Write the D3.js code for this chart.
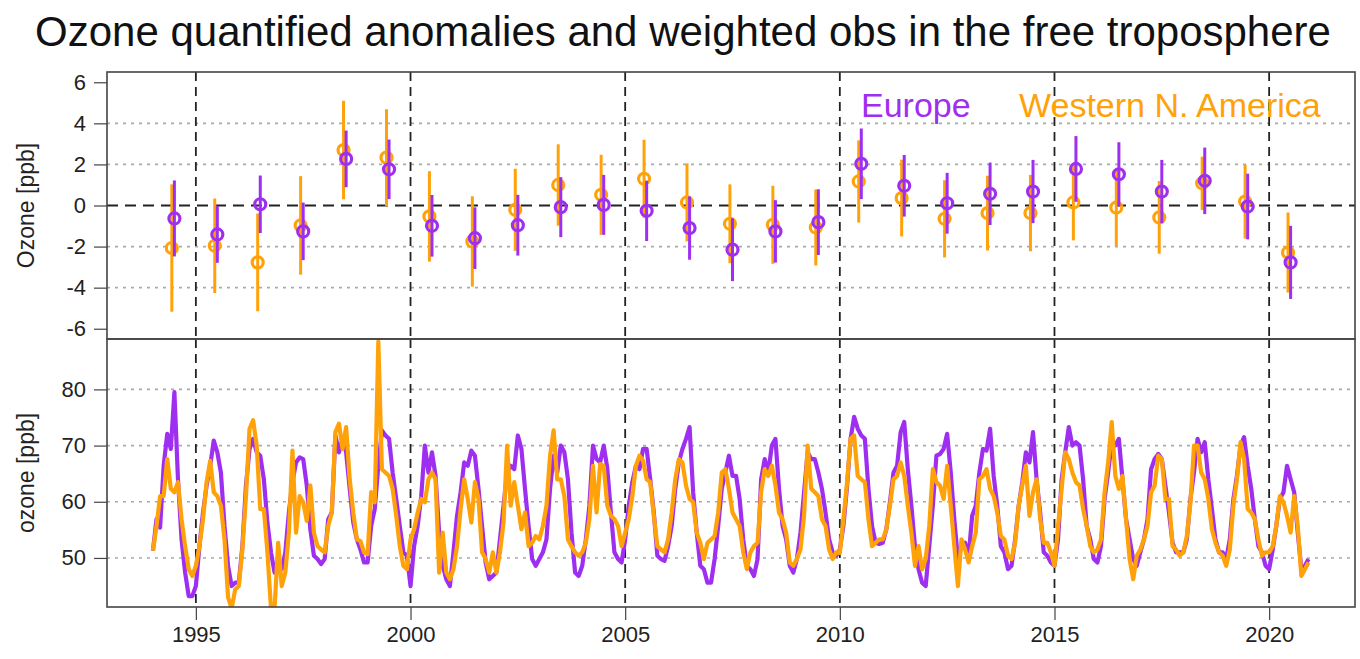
<!doctype html>
<html lang="en">

<head>
  <title>Ozone anomalies and weighted obs</title>
  <meta charset="utf-8" />
  <script src="https://d3js.org/d3.v7.min.js"></script>
  <style>
    body { margin: 0; background: #fff; }
    svg { font-family: "Liberation Sans", Arial, sans-serif; }
  </style>
</head>

<body>
  <figure id="chart" style="margin:0"></figure>

  <script>
    // yearly anomalies (top panel)
    const years = [1994, 1995, 1996, 1997, 1998, 1999, 2000, 2001, 2002, 2003, 2004, 2005, 2006, 2007,
      2008, 2009, 2010, 2011, 2012, 2013, 2014, 2015, 2016, 2017, 2018, 2019, 2020];
    const europeAnomaly = [-0.63, -1.41, 0.06, -1.26, 2.27, 1.76, -0.99, -1.59, -0.96, -0.08, 0.03, -0.26, -1.10, -2.15,
      -1.26, -0.81, 2.03, 0.96, 0.11, 0.57, 0.68, 1.78, 1.52, 0.68, 1.20, -0.05, -2.77];
    const europeError = [1.85, 1.38, 1.40, 1.40, 1.38, 1.45, 1.50, 1.50, 1.48, 1.46, 1.46, 1.47, 1.54, 1.53,
      1.52, 1.60, 1.72, 1.50, 1.48, 1.52, 1.54, 1.60, 1.56, 1.54, 1.62, 1.60, 1.78];
    const wnaAnomaly = [-2.07, -1.96, -2.77, -0.97, 2.70, 2.33, -0.53, -1.75, -0.21, 1.00, 0.52, 1.30, 0.15, -0.89,
      -0.94, -1.07, 1.17, 0.36, -0.65, -0.37, -0.37, 0.15, -0.10, -0.58, 1.08, 0.19, -2.29];
    const wnaError = [3.10, 2.30, 2.38, 2.40, 2.40, 2.36, 2.20, 2.20, 2.00, 1.98, 1.95, 1.90, 1.90, 1.92,
      1.90, 1.85, 2.00, 1.87, 1.88, 1.82, 1.86, 1.85, 1.88, 1.77, 1.30, 1.80, 1.95];

    // monthly weighted obs (bottom panel), Jan 1994 .. Dec 2020, one row per year
    const europeMonthly = [
      51.3, 56.9, 55.4, 66.4, 72.1, 69.4, 79.5, 64.0, 53.3, 47.4, 43.2, 43.2,
      45.0, 52.1, 58.1, 62.9, 66.4, 70.9, 68.8, 65.2, 55.7, 48.6, 45.0, 45.6,
      45.6, 52.1, 62.9, 69.4, 71.2, 68.8, 68.2, 64.0, 56.3, 51.0, 47.4, 48.6,
      48.0, 51.0, 58.1, 63.5, 67.0, 67.9, 67.6, 62.9, 55.1, 50.4, 49.8, 48.9,
      49.8, 56.9, 58.1, 71.8, 68.8, 71.2, 68.8, 62.3, 56.3, 53.3, 51.5, 49.2,
      49.2, 55.7, 58.7, 66.4, 72.7, 71.8, 71.2, 65.2, 60.5, 55.7, 51.0, 50.4,
      45.0, 52.1, 55.7, 61.0, 70.0, 65.2, 68.8, 64.6, 54.5, 48.6, 46.2, 45.0,
      51.0, 57.5, 61.7, 67.0, 66.4, 69.1, 68.2, 62.3, 55.7, 49.2, 46.2, 46.8,
      47.4, 53.3, 59.3, 65.2, 66.4, 65.8, 71.8, 69.4, 62.3, 55.7, 49.8, 48.6,
      49.8, 51.0, 53.3, 62.3, 68.2, 65.2, 70.0, 68.8, 64.0, 54.5, 47.4, 46.8,
      48.6, 53.3, 59.3, 70.0, 67.6, 67.0, 70.0, 66.0, 58.1, 51.0, 49.8, 49.2,
      53.3, 59.3, 63.5, 66.4, 65.8, 69.4, 69.4, 64.0, 58.1, 50.4, 49.8, 49.5,
      52.1, 55.7, 62.3, 67.0, 69.4, 71.2, 73.3, 61.7, 54.5, 48.6, 48.0, 45.6,
      45.6, 49.8, 55.7, 62.3, 65.2, 68.2, 64.6, 64.6, 60.5, 53.3, 48.6, 48.0,
      46.8, 49.8, 64.0, 67.6, 65.2, 70.0, 71.2, 62.3, 55.7, 53.3, 48.6, 47.4,
      49.8, 54.5, 61.7, 68.8, 67.6, 67.6, 65.2, 62.3, 58.1, 53.3, 51.0, 50.4,
      51.5, 55.7, 62.6, 71.2, 75.1, 73.0, 71.8, 71.2, 62.3, 55.7, 52.7, 52.5,
      52.7, 55.1, 59.9, 65.2, 66.4, 72.4, 74.2, 65.8, 59.3, 52.1, 48.0, 45.6,
      45.0, 52.1, 59.3, 68.2, 68.5, 69.4, 72.1, 65.2, 56.9, 49.8, 52.1, 52.7,
      50.4, 57.5, 59.3, 65.2, 69.4, 69.1, 73.0, 64.6, 59.3, 52.1, 51.0, 48.0,
      48.6, 53.3, 59.3, 63.5, 68.8, 67.0, 72.4, 64.0, 58.1, 51.0, 50.4, 49.2,
      48.6, 53.3, 64.0, 68.8, 73.3, 70.0, 70.6, 70.0, 64.0, 55.7, 53.3, 49.8,
      49.2, 52.1, 60.5, 65.2, 70.6, 70.0, 71.2, 64.0, 56.9, 53.3, 49.8, 48.6,
      51.0, 53.3, 56.9, 65.8, 67.6, 68.5, 67.6, 62.9, 58.1, 52.7, 51.0, 51.0,
      51.0, 53.3, 60.5, 65.2, 71.2, 68.8, 70.6, 64.0, 58.7, 53.3, 51.0, 51.0,
      49.8, 53.3, 60.5, 64.6, 70.0, 71.5, 66.4, 62.3, 56.9, 52.1, 51.0, 48.6,
      48.0, 51.5, 55.7, 60.5, 61.7, 66.4, 64.0, 61.7, 54.5, 48.0, 48.6, 49.8
    ];
    const wnaMonthly = [
      51.3, 55.7, 61.0, 61.0, 67.6, 62.3, 61.7, 63.5, 56.9, 52.1, 48.0, 46.8,
      48.6, 52.1, 56.9, 63.5, 67.3, 61.7, 61.0, 59.3, 53.3, 43.0, 41.0, 44.4,
      45.0, 51.5, 61.0, 73.0, 74.5, 70.0, 58.7, 58.7, 51.0, 41.0, 41.0, 52.7,
      45.0, 47.4, 54.5, 69.1, 54.5, 61.0, 59.9, 56.6, 62.9, 54.5, 52.1, 51.5,
      51.0, 55.7, 58.1, 72.4, 73.9, 69.4, 73.3, 64.0, 58.1, 53.3, 53.0, 51.0,
      50.7, 61.7, 59.9, 88.5, 65.8, 65.2, 64.6, 62.3, 57.5, 52.1, 48.6, 48.0,
      53.3, 55.1, 58.1, 60.5, 59.9, 64.0, 65.2, 64.0, 47.4, 54.5, 47.4, 46.2,
      48.0, 52.1, 58.7, 64.0, 60.5, 56.3, 63.5, 60.5, 51.0, 49.8, 47.4, 51.0,
      47.4, 51.0, 56.3, 70.0, 59.3, 63.5, 59.3, 55.1, 58.1, 52.1, 52.7, 53.9,
      53.3, 55.7, 59.3, 68.2, 72.7, 64.0, 64.0, 61.0, 53.3, 52.1, 51.0, 50.4,
      51.0, 52.7, 56.9, 66.4, 58.1, 66.7, 66.4, 59.3, 57.5, 56.9, 55.7, 52.1,
      54.5, 56.9, 61.0, 66.4, 68.2, 67.3, 64.0, 63.5, 57.5, 52.1, 51.5, 51.0,
      53.3, 58.1, 64.0, 67.6, 67.0, 62.9, 60.5, 59.9, 54.5, 52.7, 49.8, 52.7,
      53.3, 53.9, 58.1, 65.2, 65.8, 62.3, 58.1, 56.9, 55.7, 51.0, 48.0, 51.0,
      52.1, 52.7, 61.7, 65.8, 64.6, 66.4, 62.9, 58.1, 56.9, 54.5, 49.2, 48.6,
      49.8, 51.5, 57.5, 70.0, 62.3, 61.7, 61.0, 56.9, 55.7, 51.5, 49.8, 51.0,
      50.9, 56.9, 63.3, 71.2, 71.8, 64.6, 64.0, 63.5, 56.9, 52.1, 52.7, 53.3,
      53.3, 55.1, 59.3, 64.0, 64.6, 67.0, 64.6, 59.3, 54.5, 48.6, 52.1, 48.0,
      49.8, 55.7, 65.8, 63.5, 62.9, 60.5, 66.4, 59.3, 52.1, 45.0, 53.3, 51.5,
      49.2, 52.1, 54.5, 64.0, 64.6, 65.8, 62.3, 61.0, 58.1, 53.9, 53.3, 50.4,
      49.8, 52.7, 59.3, 62.9, 66.4, 57.5, 61.7, 64.0, 56.9, 52.7, 52.7, 51.0,
      48.6, 55.7, 62.3, 68.8, 67.6, 65.2, 63.5, 62.9, 58.7, 55.7, 52.1, 51.0,
      51.5, 53.3, 61.7, 67.0, 74.2, 64.6, 62.3, 64.6, 56.9, 49.8, 46.2, 50.4,
      51.5, 53.3, 55.7, 61.7, 62.9, 68.2, 67.6, 60.5, 60.5, 52.1, 51.5, 50.4,
      51.0, 53.9, 59.9, 70.0, 70.0, 65.2, 64.0, 60.5, 55.1, 52.7, 51.0, 50.4,
      48.6, 51.5, 59.3, 64.0, 70.6, 67.6, 58.7, 58.1, 56.9, 53.3, 50.4, 51.0,
      51.0, 52.1, 55.7, 61.0, 59.9, 57.5, 54.5, 61.0, 55.7, 46.8, 48.0, 49.2
    ];

    const topTicks = [-6, -4, -2, 0, 2, 4, 6];
    const topGrid = [-4, -2, 2, 4];
    const bottomTicks = [50, 60, 70, 80];
    const decadeLines = [1995, 2000, 2005, 2010, 2015, 2020];

    const purple = "#9f2ff0";
    const orange = "#ffa20a";

    /* Build both panels. */
    window.onload = () => {
      const params = {
        width: 1360,
        height: 659,
        left: 107,
        right: 1355,
        top: 72,
        mid: 339,
        bottom: 607,
        tickFont: 22
      };

      const svg = d3.select("#chart").append("svg")
        .attr("width", params.width)
        .attr("height", params.height);

      const x = d3.scaleLinear()
        .domain([1992.93, 2022.0])
        .range([params.left, params.right]);
      const yTop = d3.scaleLinear()
        .domain([-6.5, 6.5])
        .range([params.mid, params.top]);
      const yBot = d3.scaleLinear()
        .domain([41.27, 88.97])
        .range([params.bottom, params.mid]);

      svg.append("text")
        .attr("x", 683).attr("y", 46)
        .attr("text-anchor", "middle")
        .attr("font-size", 42)
        .attr("fill", "#111")
        .text("Ozone quantified anomalies and weighted obs in the free troposphere");

      // clip the series to their panels
      svg.append("clipPath").attr("id", "clipBot")
        .append("rect")
        .attr("x", params.left).attr("y", params.mid)
        .attr("width", params.right - params.left).attr("height", params.bottom - params.mid);
      svg.append("clipPath").attr("id", "clipTop")
        .append("rect")
        .attr("x", params.left).attr("y", params.top)
        .attr("width", params.right - params.left).attr("height", params.mid - params.top);

      /* style an R-like axis: no domain line, plain hyphen minus */
      function styleAxis(g, size) {
        g.select(".domain").remove();
        g.selectAll("line").attr("stroke", "#444").attr("stroke-width", 1.2);
        g.selectAll("text").attr("font-size", size).attr("fill", "#222")
          .attr("font-family", "'Liberation Sans', Arial, sans-serif");
      }

      // ---- top panel ----
      const top = svg.append("g");
      top.selectAll("line.grid")
        .data(topGrid).enter().append("line")
        .attr("x1", params.left).attr("x2", params.right)
        .attr("y1", d => yTop(d)).attr("y2", d => yTop(d))
        .attr("stroke", "#aaa").attr("stroke-width", 1.6).attr("stroke-dasharray", "3,5");
      top.append("line")
        .attr("x1", params.left).attr("x2", params.right)
        .attr("y1", yTop(0)).attr("y2", yTop(0))
        .attr("stroke", "#222").attr("stroke-width", 1.8).attr("stroke-dasharray", "11,7");
      top.selectAll("line.decade")
        .data(decadeLines).enter().append("line")
        .attr("x1", d => x(d)).attr("x2", d => x(d))
        .attr("y1", params.top).attr("y2", params.mid)
        .attr("stroke", "#222").attr("stroke-width", 1.8).attr("stroke-dasharray", "9,6");

      const pts = top.append("g").attr("clip-path", "url(#clipTop)");
      drawAnomalies(pts, wnaAnomaly, wnaError, 0.44, orange);
      drawAnomalies(pts, europeAnomaly, europeError, 0.5, purple);

      function drawAnomalies(g, values, errors, offset, colour) {
        const rows = years.map((yr, i) => ({ t: yr + offset, v: values[i], e: errors[i] }));
        g.selectAll(null).data(rows).enter().append("line")
          .attr("x1", d => x(d.t)).attr("x2", d => x(d.t))
          .attr("y1", d => yTop(d.v - d.e)).attr("y2", d => yTop(d.v + d.e))
          .attr("stroke", colour).attr("stroke-width", 3);
        g.selectAll(null).data(rows).enter().append("circle")
          .attr("cx", d => x(d.t)).attr("cy", d => yTop(d.v))
          .attr("r", 5.5)
          .attr("fill", "none").attr("stroke", colour).attr("stroke-width", 3.2);
      }

      top.append("g")
        .attr("transform", "translate(" + params.left + ",0)")
        .call(d3.axisLeft(yTop).tickValues(topTicks).tickFormat(d => String(d)).tickSize(13).tickPadding(8))
        .call(g => styleAxis(g, params.tickFont));

      top.append("text")
        .attr("transform", "translate(34," + yTop(0) + ") rotate(-90)")
        .attr("text-anchor", "middle")
        .attr("font-size", 23).attr("fill", "#222")
        .text("Ozone [ppb]");

      top.append("text")
        .attr("x", 861).attr("y", 117)
        .attr("font-size", 34).attr("fill", purple)
        .text("Europe");
      top.append("text")
        .attr("x", 1019).attr("y", 117)
        .attr("font-size", 34).attr("fill", orange)
        .text("Western N. America");

      // ---- bottom panel ----
      const bot = svg.append("g");
      bot.selectAll("line.grid")
        .data(bottomTicks).enter().append("line")
        .attr("x1", params.left).attr("x2", params.right)
        .attr("y1", d => yBot(d)).attr("y2", d => yBot(d))
        .attr("stroke", "#aaa").attr("stroke-width", 1.6).attr("stroke-dasharray", "3,5");
      bot.selectAll("line.decade")
        .data(decadeLines).enter().append("line")
        .attr("x1", d => x(d)).attr("x2", d => x(d))
        .attr("y1", params.mid).attr("y2", params.bottom)
        .attr("stroke", "#222").attr("stroke-width", 1.8).attr("stroke-dasharray", "9,6");

      const line = d3.line()
        .x((d, i) => x(1994 + i / 12))
        .y(d => yBot(d));
      const series = bot.append("g").attr("clip-path", "url(#clipBot)");
      series.append("path").datum(europeMonthly)
        .attr("d", line)
        .attr("fill", "none").attr("stroke", purple).attr("stroke-width", 4.2)
        .attr("stroke-linejoin", "round");
      series.append("path").datum(wnaMonthly)
        .attr("d", line)
        .attr("fill", "none").attr("stroke", orange).attr("stroke-width", 4.2)
        .attr("stroke-linejoin", "round");

      bot.append("g")
        .attr("transform", "translate(" + params.left + ",0)")
        .call(d3.axisLeft(yBot).tickValues(bottomTicks).tickSize(13).tickPadding(8))
        .call(g => styleAxis(g, params.tickFont));

      bot.append("g")
        .attr("transform", "translate(0," + params.bottom + ")")
        .call(d3.axisBottom(x).tickValues(decadeLines).tickFormat(d3.format("d")).tickSize(13).tickPadding(6))
        .call(g => styleAxis(g, params.tickFont));

      bot.append("text")
        .attr("transform", "translate(34," + ((params.mid + params.bottom) / 2) + ") rotate(-90)")
        .attr("text-anchor", "middle")
        .attr("font-size", 23).attr("fill", "#222")
        .text("ozone [ppb]");

      // panel frames
      [[params.top, params.mid], [params.mid, params.bottom]].forEach(([y0, y1]) => {
        svg.append("rect")
          .attr("x", params.left).attr("y", y0)
          .attr("width", params.right - params.left).attr("height", y1 - y0)
          .attr("fill", "none").attr("stroke", "#444").attr("stroke-width", 1.6);
      });
    }
  </script>

</body></html>
